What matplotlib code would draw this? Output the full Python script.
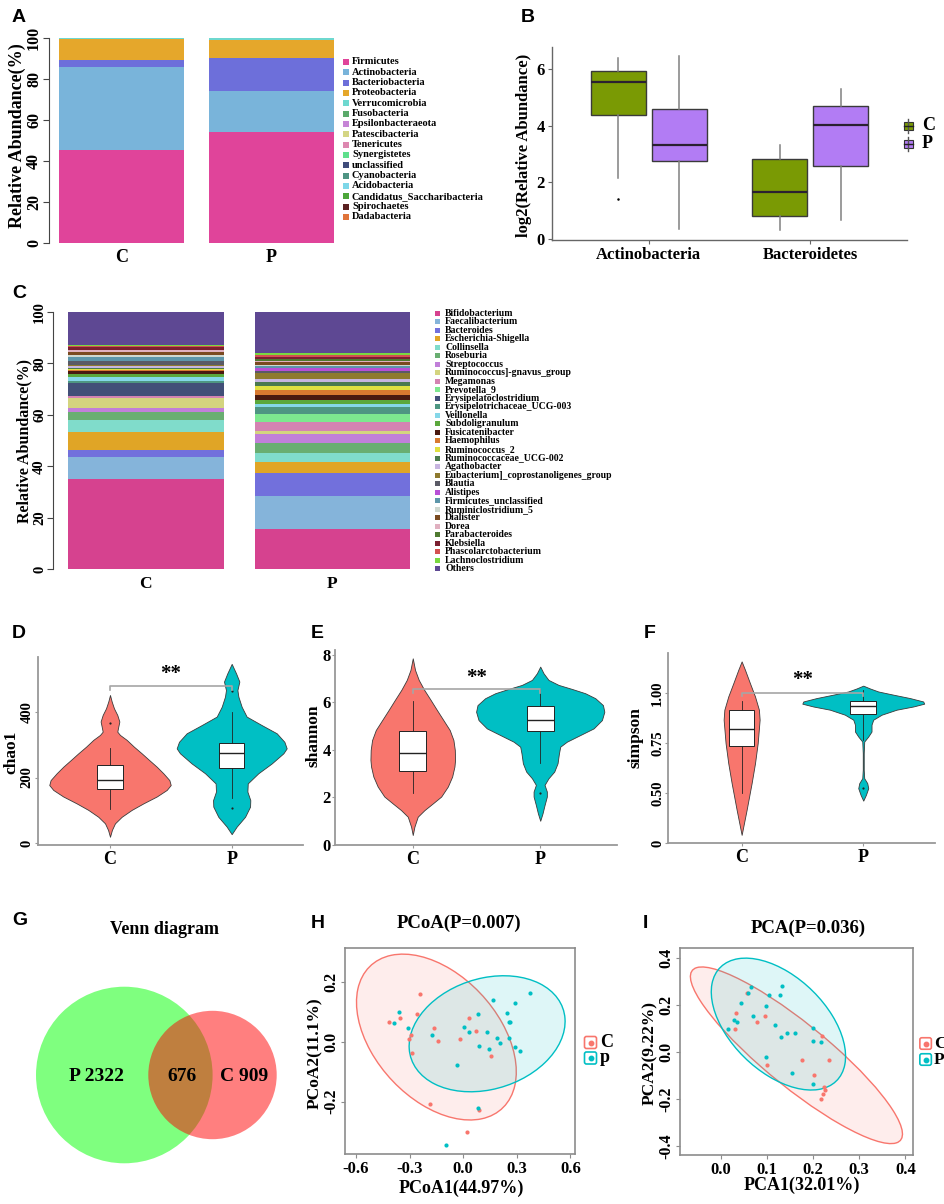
import numpy as np
import matplotlib
matplotlib.use('Agg')
import matplotlib.pyplot as plt
from matplotlib.patches import Rectangle, Ellipse, Circle, FancyBboxPatch

plt.rcParams['font.family'] = ['Liberation Serif', 'DejaVu Serif']
plt.rcParams['font.weight'] = 'bold'
plt.rcParams['axes.labelweight'] = 'bold'

# ======================= DATA =======================
groups = ['C', 'P']

# ---- Panel A: phylum composition (%) ----
phyla = ['Firmicutes', 'Actinobacteria', 'Bacteriobacteria', 'Proteobacteria',
         'Verrucomicrobia', 'Fusobacteria', 'Epsilonbacteraeota', 'Patescibacteria',
         'Tenericutes', 'Synergistetes', 'unclassified', 'Cyanobacteria',
         'Acidobacteria', 'Candidatus_Saccharibacteria', 'Spirochaetes', 'Dadabacteria']
phyla_colors = ['#E0449A', '#79B4DA', '#6D6FDA', '#E5A72B', '#6ED8CF', '#5BAA6B',
                '#C685D6', '#D4D584', '#DD88B0', '#5FE08C', '#3F4C7A', '#4E9483',
                '#7DD7E8', '#4CA63A', '#5A2020', '#E0743A']
phyla_C = [45.5, 40.4, 3.5, 10.3, 0.1, 0.05, 0.03, 0.02, 0.02, 0.01, 0.03, 0.01, 0.01, 0.01, 0.005, 0.005]
phyla_P = [54.3, 19.7, 16.1, 8.8, 0.9, 0.05, 0.03, 0.02, 0.02, 0.01, 0.03, 0.01, 0.01, 0.01, 0.005, 0.005]

# ---- Panel B: log2 relative abundance box stats ----
B_taxa = ['Actinobacteria', 'Bacteroidetes']
B_C_whislo = [2.16, 0.33]
B_C_q1 = [4.36, 0.82]
B_C_med = [5.53, 1.67]
B_C_q3 = [5.90, 2.81]
B_C_whishi = [6.37, 3.30]
B_C_fliers = [[1.43], []]
B_P_whislo = [0.37, 0.70]
B_P_q1 = [2.77, 2.57]
B_P_med = [3.31, 4.01]
B_P_q3 = [4.58, 4.68]
B_P_whishi = [6.43, 5.29]
B_P_fliers = [[], []]

# ---- Panel C: genus composition (%) ----
genera = ['Bifidobacterium', 'Faecalibacterium', 'Bacteroides', 'Escherichia-Shigella',
          'Collinsella', 'Roseburia', 'Streptococcus', 'Ruminococcus]-gnavus_group',
          'Megamonas', 'Prevotella_9', 'Erysipelatoclostridium', 'Erysipelotrichaceae_UCG-003',
          'Veillonella', 'Subdoligranulum', 'Fusicatenibacter', 'Haemophilus',
          'Ruminococcus_2', 'Ruminococcaceae_UCG-002', 'Agathobacter',
          'Eubacterium]_coprostanoligenes_group', 'Blautia', 'Alistipes',
          'Firmicutes_unclassified', 'Ruminiclostridium_5', 'Dialister', 'Dorea',
          'Parabacteroides', 'Klebsiella', 'Phascolarctobacterium', 'Lachnoclostridium', 'Others']
genera_colors = ['#D6428F', '#85B4DA', '#7270DC', '#E0A526', '#80DCCB', '#69AE71',
                 '#C17FD9', '#D4D47F', '#D483B2', '#7DE88F', '#424F78', '#4E9682',
                 '#85D7E8', '#5BA83C', '#4A1A10', '#D97A30', '#E0E040', '#4B7A4E',
                 '#C7B5E0', '#8E7A2E', '#5A5A66', '#B84FD6', '#5D96AA', '#CFD8D0',
                 '#7A4A20', '#E0B0C0', '#4F7A30', '#7A2030', '#D45050', '#7AD840', '#5E4893']
genera_C = [35.2, 8.5, 2.7, 7.0, 4.6, 3.0, 1.5, 3.9, 0.9, 0.1, 4.8, 1.0, 1.6, 1.2, 0.9,
            0.5, 0.5, 0.4, 0.8, 0.4, 1.4, 0.2, 1.3, 0.9, 1.2, 0.6, 0.3, 0.9, 0.3, 0.4, 13.0]
genera_P = [15.5, 12.9, 8.9, 4.2, 3.8, 3.7, 3.6, 1.2, 3.3, 3.2, 0.2, 2.4, 1.3, 1.5, 2.1,
            1.8, 1.7, 1.6, 1.0, 2.2, 0.8, 1.3, 0.6, 0.5, 1.1, 0.4, 0.9, 0.9, 0.7, 0.7, 16.0]

# ---- Panels D-F: alpha diversity (violin outline: value, half width) ----
D_C_vy = [19, 40, 60, 80, 101, 121, 142, 162, 177, 192, 213, 233, 253, 274, 294, 315, 330, 340, 355, 371, 391, 411, 432, 452]
D_C_hw = [0, .016, .041, .096, .178, .274, .384, .466, .499, .488, .438, .384, .323, .260, .197, .137, .082, .060, .068, .077, .060, .033, .014, 0]
D_P_vy = [27, 50, 80, 111, 131, 157, 182, 213, 243, 274, 289, 309, 335, 360, 386, 416, 447, 467, 493, 518, 547]
D_P_hw = [0, .041, .110, .151, .153, .129, .132, .219, .329, .425, .452, .433, .370, .247, .123, .082, .055, .047, .063, .036, 0]
D_stats_C = dict(whislo=103, q1=164, med=192, q3=238, whishi=289, fliers=[367])
D_stats_P = dict(whislo=136, q1=229, med=274, q3=306, whishi=401, fliers=[464, 108])

E_C_vy = [0.42, 0.77, 1.19, 1.47, 1.75, 2.04, 2.46, 2.88, 3.30, 3.58, 4.00, 4.42, 4.84, 5.26, 5.68, 6.11, 6.53, 6.95, 7.37, 7.86]
E_C_hw = [0, .013, .039, .092, .157, .223, .275, .309, .327, .332, .330, .319, .290, .240, .190, .140, .090, .047, .018, 0]
E_P_vy = [1.02, 1.33, 1.68, 2.04, 2.25, 2.53, 2.81, 3.09, 3.44, 3.86, 4.14, 4.35, 4.63, 4.91, 5.26, 5.61, 5.89, 6.18, 6.39, 6.57, 6.74, 6.95, 7.23, 7.51]
E_P_hw = [0, .018, .034, .052, .052, .034, .065, .110, .136, .147, .157, .209, .314, .419, .484, .503, .492, .432, .353, .249, .144, .065, .026, 0]
E_stats_C = dict(whislo=2.2, q1=3.12, med=3.86, q3=4.81, whishi=6.08, fliers=[])
E_stats_P = dict(whislo=3.44, q1=4.80, med=5.26, q3=5.87, whishi=6.57, fliers=[2.2])

F_C_vy = [0.292, 0.35, 0.417, 0.55, 0.65, 0.75, 0.867, 0.917, 0.983, 1.05, 1.117, 1.158]
F_C_hw = [0, .019, .041, .082, .110, .132, .148, .142, .110, .068, .027, 0]
F_P_vy = [0.463, 0.492, 0.525, 0.55, 0.575, 0.617, 0.70, 0.758, 0.783, 0.808, 0.842, 0.867, 0.892, 0.917, 0.933, 0.947, 0.958, 0.975, 0.992, 1.008, 1.023, 1.037]
F_P_hw = [0, .022, .041, .033, .008, .004, .004, .008, .041, .068, .068, .082, .151, .274, .411, .501, .493, .384, .247, .123, .055, 0]
F_stats_C = dict(whislo=0.50, q1=0.737, med=0.822, q3=0.913, whishi=0.958, fliers=[])
F_stats_P = dict(whislo=0.765, q1=0.897, med=0.937, q3=0.958, whishi=1.017, fliers=[0.525])
F_ticks = [0.25, 0.50, 0.75, 1.00]
F_ticklabels = ['0', '0.50', '0.75', '1.00']

sig_D, sig_E, sig_F = 479, 6.57, 1.0

# ---- Panel G: Venn counts ----
venn_P_only, venn_both, venn_C_only = 2322, 676, 909

# ---- Panel H: PCoA ----
H_C_x = [-0.416, -0.351, -0.243, -0.261, -0.294, -0.301, -0.289, -0.166, -0.143, -0.018, 0.030, 0.074, 0.155, -0.185, 0.088, 0.023]
H_C_y = [0.064, 0.078, 0.157, 0.092, 0.022, 0.009, -0.037, 0.044, 0.002, 0.009, 0.079, 0.035, -0.047, -0.209, -0.228, -0.301]
H_P_x = [-0.358, -0.388, -0.308, -0.176, -0.032, -0.097, 0.005, 0.035, 0.081, 0.090, 0.132, 0.146, 0.166, 0.192, 0.206, 0.247, 0.257, 0.264, 0.254, 0.289, 0.289, 0.317, 0.372, 0.081]
H_P_y = [0.097, 0.061, 0.044, 0.022, -0.078, -0.345, 0.049, 0.033, 0.092, -0.014, 0.032, -0.025, 0.139, 0.011, -0.006, 0.096, 0.066, 0.066, 0.011, 0.127, -0.017, -0.033, 0.161, -0.223]
H_ell_C = dict(xy=(-0.15, 0.015), a=0.468, b=0.240, angle=-20)
H_ell_P = dict(xy=(0.134, 0.026), a=0.439, b=0.188, angle=6.6)

# ---- Panel I: PCA ----
I_C_x = [0.033, 0.031, 0.056, 0.078, 0.096, 0.100, 0.175, 0.203, 0.219, 0.235, 0.224, 0.226, 0.221, 0.217]
I_C_y = [0.169, 0.100, 0.251, 0.130, 0.154, -0.055, -0.033, -0.097, 0.070, -0.033, -0.147, -0.161, -0.180, -0.201]
I_P_x = [0.066, 0.060, 0.045, 0.029, 0.035, 0.015, 0.069, 0.105, 0.132, 0.129, 0.098, 0.118, 0.130, 0.143, 0.161, 0.199, 0.199, 0.217, 0.098, 0.154, 0.199]
I_P_y = [0.279, 0.251, 0.208, 0.137, 0.130, 0.099, 0.154, 0.244, 0.282, 0.244, 0.197, 0.116, 0.066, 0.083, 0.083, 0.102, 0.050, 0.045, -0.019, -0.090, -0.137]
I_ell_C = dict(xy=(0.164, -0.013), a=0.4315, b=0.0908, angle=-60)
I_ell_P = dict(xy=(0.125, 0.120), a=0.2919, b=0.1222, angle=-72.7)

COL_C = '#F8766D'
COL_P = '#00BFC4'
B_COL_C = '#7A9A04'
B_COL_P = '#B27CF4'

# ======================= FIGURE =======================
W, H = 945, 1204
fig = plt.figure(figsize=(W / 100, H / 100), dpi=100)
SANS = ['Liberation Sans', 'DejaVu Sans']


def px_axes(x0, y0, x1, y1):
    return fig.add_axes([x0 / W, 1 - y1 / H, (x1 - x0) / W, (y1 - y0) / H])


texts = []


def ftext(x, y, s, **kw):
    kw.setdefault('ha', 'center')
    kw.setdefault('va', 'center')
    texts.append((x, y, s, kw))


def letter(x, y, s):
    ftext(x, y, s, ha='left', va='baseline', fontsize=14, fontweight='bold', family=SANS)


keys = []  # overlay artists drawn in pixel coords

# ---------------- Panel A ----------------
axA = px_axes(49, 38, 340, 243)
bottom = np.zeros(2)
for col, c, p in zip(phyla_colors, phyla_C, phyla_P):
    vals = np.array([c, p])
    axA.bar([0, 1], vals, bottom=bottom, width=0.836, color=col, linewidth=0)
    bottom += vals
axA.set_xlim(-0.485, 1.46)
axA.set_ylim(0, 100)
for s in ['top', 'right', 'bottom']:
    axA.spines[s].set_visible(False)
axA.spines['left'].set_color('#444444')
axA.spines['left'].set_linewidth(0.8)
axA.set_yticks(range(0, 101, 20))
axA.set_xticks([0, 1])
axA.set_xticklabels(groups, fontsize=13)
axA.tick_params(axis='x', length=0, pad=4)
axA.tick_params(axis='y', length=4, width=0.8, color='#444444', pad=1, labelsize=11.5)
for l in axA.get_yticklabels():
    l.set_rotation(90)
    l.set_va('center')
ftext(17, 136, 'Relative Abundance(%)', rotation=90, fontsize=13)
letter(12, 22, 'A')
for i, (name, col) in enumerate(zip(phyla, phyla_colors)):
    y = 62 + i * 10.33
    keys.append(('sq', 346, y, 6, col))
    ftext(352, y, name, ha='left', fontsize=7.5)

# ---------------- Panel B ----------------
axB = px_axes(552, 47, 907, 240)


def mkstats(lo, q1, med, q3, hi, fl):
    return [dict(whislo=a, q1=b, med=c, q3=d, whishi=e, fliers=f)
            for a, b, c, d, e, f in zip(lo, q1, med, q3, hi, fl)]


stC = mkstats(B_C_whislo, B_C_q1, B_C_med, B_C_q3, B_C_whishi, B_C_fliers)
stP = mkstats(B_P_whislo, B_P_q1, B_P_med, B_P_q3, B_P_whishi, B_P_fliers)
xcat = np.arange(1, len(B_taxa) + 1)
for st, off, col in [(stC, -0.19, B_COL_C), (stP, 0.19, B_COL_P)]:
    axB.bxp(st, positions=xcat + off, widths=0.34, patch_artist=True, showcaps=False,
            boxprops=dict(facecolor=col, edgecolor='#3a3a3a', linewidth=1.0),
            medianprops=dict(color='#2a2030', linewidth=1.6),
            whiskerprops=dict(color='#808080', linewidth=1.1),
            flierprops=dict(marker='o', markersize=1.8, markerfacecolor='black', markeredgecolor='none'))
axB.set_xlim(0.4, 2.6)
axB.set_ylim(-0.02, 6.76)
for s in ['top', 'right']:
    axB.spines[s].set_visible(False)
for s in ['left', 'bottom']:
    axB.spines[s].set_color('#666666')
    axB.spines[s].set_linewidth(1.0)
axB.set_xticks(xcat)
axB.set_xticklabels(B_taxa, fontsize=14)
axB.set_yticks([0, 2, 4, 6])
axB.tick_params(axis='both', length=3, color='#666666', labelsize=12, pad=2)
ftext(524, 145, 'log2(Relative Abundance)', rotation=90, fontsize=12)
letter(521, 22, 'B')
for yk, lab, col in [(126, 'C', B_COL_C), (144, 'P', B_COL_P)]:
    keys.append(('boxkey', 908, yk, 9, col))
    ftext(922, yk, lab, ha='left', fontsize=13)

# ---------------- Panel C ----------------
axC = px_axes(53, 312, 420, 569)
bottom = np.zeros(2)
for col, c, p in zip(genera_colors, genera_C, genera_P):
    vals = np.array([c, p])
    axC.bar([0, 1], vals, bottom=bottom, width=0.834, color=col, linewidth=0)
    bottom += vals
axC.set_xlim(-0.495, 1.468)
axC.set_ylim(0, 100)
for s in ['top', 'right', 'bottom']:
    axC.spines[s].set_visible(False)
axC.spines['left'].set_color('#444444')
axC.spines['left'].set_linewidth(0.8)
axC.set_yticks(range(0, 101, 20))
axC.set_xticks([0, 1])
axC.set_xticklabels(groups, fontsize=12.5)
axC.tick_params(axis='x', length=0, pad=5)
axC.tick_params(axis='y', length=4, width=0.8, color='#444444', pad=1, labelsize=10.5)
for l in axC.get_yticklabels():
    l.set_rotation(90)
    l.set_va('center')
ftext(24, 441, 'Relative Abundance(%)', rotation=90, fontsize=11.5)
letter(12, 298, 'C')
for i, (name, col) in enumerate(zip(genera, genera_colors)):
    y = 313 + i * 8.53
    keys.append(('sq', 437, y, 5, col))
    ftext(445, y, name, ha='left', fontsize=7)


# ---------------- Panels D, E, F ----------------
def violin_panel(ax, vys, hws, stats, ylim, xlim, ylab_xy, ylab, sig_y, tip, star_y):
    for i, (vy, hw, col) in enumerate(zip(vys, hws, [COL_C, COL_P])):
        pos = i + 1
        vy = np.asarray(vy, float)
        hw = np.asarray(hw, float)
        ax.fill_betweenx(vy, pos - hw, pos + hw, facecolor=col, edgecolor='#3a3a3a',
                         linewidth=0.6, zorder=1)
    ax.bxp(stats, positions=[1, 2], widths=0.21, patch_artist=True, showcaps=False,
           boxprops=dict(facecolor='white', edgecolor='#222222', linewidth=0.7),
           medianprops=dict(color='#222222', linewidth=1.0),
           whiskerprops=dict(color='#222222', linewidth=0.6),
           flierprops=dict(marker='o', markersize=1.6, markerfacecolor='#222222',
                           markeredgecolor='none'), zorder=2)
    ax.plot([1, 1, 2, 2], [sig_y - tip, sig_y, sig_y, sig_y - tip], color='#a6a6a6',
            linewidth=1.2, zorder=3)
    ax.text(1.5, star_y, '**', ha='center', va='center', fontsize=15, fontweight='bold')
    ax.set_xlim(*xlim)
    ax.set_ylim(*ylim)
    for s in ['top', 'right']:
        ax.spines[s].set_visible(False)
    for s in ['left', 'bottom']:
        ax.spines[s].set_color('#999999')
        ax.spines[s].set_linewidth(1.3)
    ax.set_xticks([1, 2])
    ax.set_xticklabels(groups, fontsize=13)
    ax.tick_params(axis='x', length=2, color='#999999', pad=2)
    ax.tick_params(axis='y', length=2, color='#999999', labelsize=10.5, pad=1)
    ftext(ylab_xy[0], ylab_xy[1], ylab, rotation=90, fontsize=12.5)


axD = px_axes(37.7, 657, 303, 845)
violin_panel(axD, [D_C_vy, D_P_vy], [D_C_hw, D_P_hw], [D_stats_C, D_stats_P],
             (-6.1, 568), (0.406, 2.586), (11, 752), 'chao1', sig_D, 12, 516)
axD.set_yticks([0, 200, 400])
for l in axD.get_yticklabels():
    l.set_rotation(90)
    l.set_va('center')
letter(12, 638, 'D')

axE = px_axes(335, 650, 616.7, 845)
violin_panel(axE, [E_C_vy, E_P_vy], [E_C_hw, E_P_hw], [E_stats_C, E_stats_P],
             (0.0, 8.21), (0.39, 2.6), (313, 736), 'shannon', sig_E, 0.17, 7.03)
axE.set_yticks([0, 2, 4, 6, 8])
axE.tick_params(axis='y', labelsize=12)
letter(311, 638, 'E')

axF = px_axes(668.3, 653, 935, 843.3)
violin_panel(axF, [F_C_vy, F_P_vy], [F_C_hw, F_P_hw], [F_stats_C, F_stats_P],
             (0.25, 1.2), (0.397, 2.59), (635, 738), 'simpson', sig_F, 0.015, 1.067)
axF.set_yticks(F_ticks)
axF.set_yticklabels(F_ticklabels)
for l in axF.get_yticklabels():
    l.set_rotation(90)
    l.set_va('center')
letter(644, 638, 'F')

# ---------------- Panel G: Venn ----------------
axG = px_axes(0, 935, 320, 1204)
axG.set_xlim(0, 320)
axG.set_ylim(-129, 140)
axG.axis('off')
R_P_LAYOUT = 88.3      # radius of the larger set circle (layout scale)
CX_P, CENTER_GAP = 124.3, 88.2
k = R_P_LAYOUT / np.sqrt(venn_P_only + venn_both)
rP = k * np.sqrt(venn_P_only + venn_both)
rC = k * np.sqrt(venn_C_only + venn_both)
cxC = CX_P + CENTER_GAP
axG.add_patch(Circle((CX_P, 0), rP, facecolor=(0, 1, 0, 0.5), edgecolor='none'))
axG.add_patch(Circle((cxC, 0), rC, facecolor=(1, 0, 0, 0.5), edgecolor='none'))
lbl_kw = dict(ha='center', va='center', fontsize=14, fontweight='bold')
axG.text((CX_P - rP + cxC - rC) / 2 + 4, -1.5, f'P {venn_P_only}', **lbl_kw)
axG.text((cxC - rC + CX_P + rP) / 2 + 2, -1.5, f'{venn_both}', **lbl_kw)
axG.text((CX_P + rP + cxC + rC) / 2 - 1, -1.5, f'C {venn_C_only}', **lbl_kw)
ftext(165, 929, 'Venn diagram', fontsize=13)
letter(12, 925, 'G')


# ---------------- Panels H, I ----------------
def ord_panel(ax, cx, cy, px_, py_, ellC, ellP, xlim, ylim, xt, xtl, yt, ytl):
    for e, col in [(ellC, COL_C), (ellP, COL_P)]:
        ax.add_patch(Ellipse(e['xy'], 2 * e['a'], 2 * e['b'], angle=e['angle'],
                             facecolor=matplotlib.colors.to_rgba(col, 0.13),
                             edgecolor=col, linewidth=1.0, zorder=1))
    ax.scatter(cx, cy, s=9, color=COL_C, linewidths=0, zorder=3)
    ax.scatter(px_, py_, s=9, color=COL_P, linewidths=0, zorder=3)
    ax.set_xlim(*xlim)
    ax.set_ylim(*ylim)
    for s in ax.spines.values():
        s.set_color('#8c8c8c')
        s.set_linewidth(1.2)
    ax.set_xticks(xt)
    ax.set_xticklabels(xtl)
    ax.set_yticks(yt)
    ax.set_yticklabels(ytl)
    ax.tick_params(axis='both', length=3, color='#8c8c8c', labelsize=12, pad=2)
    ax.tick_params(axis='y', labelsize=11.5, pad=1)
    for l in ax.get_yticklabels():
        l.set_rotation(90)
        l.set_va('center')


axH = px_axes(344.6, 948.3, 574.8, 1154)
ord_panel(axH, H_C_x, H_C_y, H_P_x, H_P_y, H_ell_C, H_ell_P,
          (-0.664, 0.625), (-0.375, 0.311),
          [-0.6, -0.3, 0.0, 0.3, 0.6], ['-0.6', '-0.3', '0.0', '0.3', '0.6'],
          [-0.2, 0.0, 0.2], ['-0.2', '0.0', '0.2'])
ftext(459, 923, 'PCoA(P=0.007)', fontsize=13.5)
ftext(461, 1188, 'PCoA1(44.97%)', fontsize=13)
ftext(315, 1053, 'PCoA2(11.1%)', rotation=90, fontsize=12.5)
letter(311, 928, 'H')
for yk, lab, col in [(1042.5, 'C', COL_C), (1058, 'p', COL_P)]:
    keys.append(('ptkey', 590.5, yk, 12, col))
    ftext(600, yk, lab, ha='left', fontsize=13)

axI = px_axes(680.2, 948.3, 912.8, 1155)
ord_panel(axI, I_C_x, I_C_y, I_P_x, I_P_y, I_ell_C, I_ell_P,
          (-0.0877, 0.416), (-0.438, 0.443),
          [0.0, 0.1, 0.2, 0.3, 0.4], ['0.0', '0.1', '0.2', '0.3', '0.4'],
          [-0.4, -0.2, 0.0, 0.2, 0.4], ['-0.4', '-0.2', '0.0', '0.2', '0.4'])
ftext(808, 928, 'PCA(P=0.036)', fontsize=13.5)
ftext(802, 1185, 'PCA1(32.01%)', fontsize=13)
ftext(650, 1053, 'PCA2(9.22%)', rotation=90, fontsize=12.5)
letter(643, 928, 'I')
for yk, lab, col in [(1043.5, 'C', COL_C), (1059.5, 'P', COL_P)]:
    keys.append(('ptkey', 925.6, yk, 11.5, col))
    ftext(934, yk, lab, ha='left', fontsize=12.5)

# ---------------- overlay (pixel coordinates) ----------------
ov = fig.add_axes([0, 0, 1, 1])
ov.set_xlim(0, W)
ov.set_ylim(H, 0)
ov.axis('off')
for kind, x, y, sz, col in keys:
    if kind == 'sq':
        ov.add_patch(Rectangle((x - sz / 2, y - sz / 2), sz, sz, facecolor=col, edgecolor='none'))
    elif kind == 'boxkey':
        ov.plot([x, x], [y - 7, y + 7], color='#555555', linewidth=1.0)
        ov.add_patch(Rectangle((x - sz / 2, y - 4), sz, 8, facecolor=col, edgecolor='#333333', linewidth=0.8))
        ov.plot([x - sz / 2, x + sz / 2], [y, y], color='#222222', linewidth=1.0)
    elif kind == 'ptkey':
        ov.add_patch(FancyBboxPatch((x - sz / 2, y - sz / 2), sz, sz,
                                    boxstyle='round,pad=0,rounding_size=2',
                                    facecolor='white', edgecolor=col, linewidth=1.2))
        ov.plot([x], [y], 'o', color=col, markersize=3.2)
for x, y, s, kw in texts:
    ov.text(x, y, s, **kw)

fig.savefig('out.png', dpi=100)
